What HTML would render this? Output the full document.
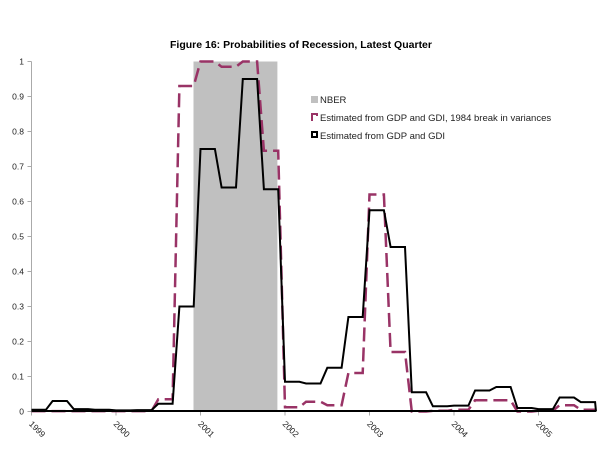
<!DOCTYPE html>
<html><head><meta charset="utf-8"><style>
body{margin:0;background:#fff;}
svg{display:block;font-family:"Liberation Sans",sans-serif;}
</style></head><body>
<svg id="chart" width="603" height="451" viewBox="0 0 603 451" xmlns="http://www.w3.org/2000/svg">
<text x="301" y="48" text-anchor="middle" font-size="10.5" font-weight="bold">Figure 16: Probabilities of Recession, Latest Quarter</text>
<g id="plot"></g>
<g id="legend">
 <rect x="311" y="96" width="7" height="7" fill="#c0c0c0"/>
 <text x="320" y="103" font-size="9.5" fill="#222">NBER</text>
 <path d="M312,121 V114 H317 V116" fill="none" stroke="#993366" stroke-width="2"/>
 <text x="320" y="121" font-size="9.5" fill="#222">Estimated from GDP and GDI, 1984 break in variances</text>
 <rect x="312" y="132" width="5" height="5" fill="none" stroke="#000" stroke-width="2"/>
 <text x="320" y="139" font-size="9.5" fill="#222">Estimated from GDP and GDI</text>
</g>
</svg>
<script>
const years = [1999, 2000, 2001, 2002, 2003, 2004, 2005];
const yTicks = [0, 0.1, 0.2, 0.3, 0.4, 0.5, 0.6, 0.7, 0.8, 0.9, 1];
const yTickLabels = ["0", "0.1", "0.2", "0.3", "0.4", "0.5", "0.6", "0.7", "0.8", "0.9", "1"];
// quarters from 1999Q1 to 2005Q3
const gdpGdi = [0.005,0.03,0.007,0.005, 0.003,0.004,0.022,0.30, 0.75,0.64,0.95,0.635, 0.085,0.08,0.125,0.27, 0.575,0.47,0.055,0.015, 0.017,0.06,0.07,0.01, 0.007,0.04,0.027];
const gdpGdiBreak = [0.001,0.001,0.001,0.001, 0.001,0.001,0.035,0.93, 1.0,0.985,1.0,0.745, 0.012,0.028,0.018,0.11, 0.62,0.17,0.0,0.002, 0.005,0.032,0.032,0.0, 0.002,0.018,0.005];
const nberStart = 2000.917, nberEnd = 2001.91;

const NS = "http://www.w3.org/2000/svg";
const X0 = 31.5, PER_YEAR = 84.5, Y0 = 411.5, Y1 = 61.5, XEND = 596;
const xs = t => X0 + (t - 1999) * PER_YEAR;
const ys = v => Y0 - v * (Y0 - Y1);
const plot = document.getElementById("plot");
function mk(tag, attrs){const e=document.createElementNS(NS,tag);for(const k in attrs)e.setAttribute(k,attrs[k]);plot.appendChild(e);return e;}

const nb = mk("rect",{x:xs(nberStart),y:ys(1),width:xs(nberEnd)-xs(nberStart),height:ys(0)-ys(1),fill:"#c0c0c0"});



const ax = mk("path",{d:`M${X0},${ys(1)} V${Y0} H${XEND}`,fill:"none",stroke:"#aaa","stroke-width":1});



yTicks.forEach((v,i)=>{
  const tk = mk("line",{x1:X0-4,x2:X0,y1:ys(v),y2:ys(v),stroke:"#aaa"});
  
  
  const lb = mk("text",{x:24,y:ys(v)+3,"text-anchor":"end","font-size":8.5,fill:"#222"});
  lb.textContent = yTickLabels[i];
  
  
});
years.forEach(yr=>{
  const x = xs(yr);
  const tk = mk("line",{x1:x,x2:x,y1:Y0,y2:Y0+4,stroke:"#aaa"});
  
  
  const lb = mk("text",{x:0,y:0,"font-size":8.5,fill:"#222",transform:`translate(${x-3},${Y0+13}) rotate(45)`});
  lb.textContent = String(yr);
  
  
});

function seriesPath(vals){
  const q = 0.25;
  let d = "";
  vals.forEach((v,i)=>{
    const t = 1999 + i*q;
    const a = xs(t), b = Math.min(xs(t + q*0.68), XEND);
    d += (i===0?"M":"L")+a.toFixed(1)+","+ys(v).toFixed(1)+" L"+b.toFixed(1)+","+ys(v).toFixed(1)+" ";
  });
  return d;
}
const pb = mk("path",{d:seriesPath(gdpGdiBreak),fill:"none",stroke:"#993366","stroke-width":2.5,"stroke-dasharray":"14,6"});


const pg = mk("path",{d:seriesPath(gdpGdi)+`L${XEND},${ys(0)}`,fill:"none",stroke:"#000","stroke-width":2});


const base = mk("line",{x1:X0,x2:XEND,y1:ys(0)-0.5,y2:ys(0)-0.5,stroke:"#000","stroke-width":2});


</script>
</body></html>
